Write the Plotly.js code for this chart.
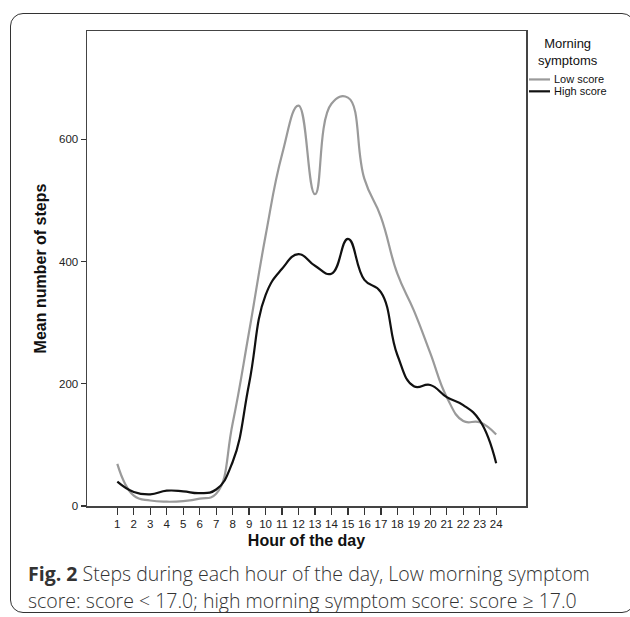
<!DOCTYPE html>
<html>
<head>
<meta charset="utf-8">
<script src="https://cdn.plot.ly/plotly-3.0.1.min.js"></script>
<style>
  html, body { margin: 0; padding: 0; background: #fff; }
  #frame { position: absolute; left: 10px; top: 13px; width: 625px; height: 600px;
           border: 1.5px solid #333; border-radius: 13px; box-sizing: border-box; }
  #chart { position: absolute; left: 0; top: 0; width: 630px; height: 617px; }
</style>
</head>
<body>
<div id="frame"></div>
<div id="chart"></div>
<script>
const hours = [1,2,3,4,5,6,7,8,9,10,11,12,13,14,15,16,17,18,19,20,21,22,23,24];
const lowScore  = [69,17,9,7,8,12,20,135,285,442,575,655,510,658,668,535,473,380,320,250,178,139,137,117];
const highScore = [40,23,19,25,24,21,27,72,200,345,388,412,393,380,437,370,350,247,196,198,178,165,140,70];
const yTicks = [0,200,400,600];
const seriesNames = ['Low score','High score'];
const legendTitle = 'Morning<br>symptoms';
const xTitle = 'Hour of the day';
const yTitle = 'Mean number of steps';
const caption1 = '<b>Fig. 2</b> Steps during each hour of the day, Low morning symptom';
const caption2 = 'score: score < 17.0; high morning symptom score: score \u2265 17.0';

const traces = [
  {x: hours, y: lowScore, name: seriesNames[0], mode: 'lines',
   line: {color: '#9a9a9a', width: 2.2, shape: 'spline', smoothing: 1.3}, showlegend: false},
  {x: hours, y: highScore, name: seriesNames[1], mode: 'lines',
   line: {color: '#111111', width: 2.2, shape: 'spline', smoothing: 1.3}, showlegend: false}
];

const axisFont = {family: 'Liberation Sans, Arial, sans-serif', size: 11.5, color: '#222'};
const titleFont = {family: 'Liberation Sans, Arial, sans-serif', size: 16, color: '#111'};
const layout = {
  width: 630, height: 617,
  margin: {l: 87, r: 104, t: 31, b: 111},
  paper_bgcolor: 'rgba(0,0,0,0)', plot_bgcolor: '#fff',
  showlegend: false,
  xaxis: {
    range: [-0.84, 25.81], tickmode: 'array', tickvals: hours, ticktext: hours.map(String),
    showgrid: false, zeroline: false, showline: true, mirror: true, linecolor: '#444', linewidth: 1.5,
    ticks: 'outside', ticklen: 7, tickwidth: 1.3, tickcolor: '#333', tickfont: axisFont,
    title: {text: '<b>' + xTitle + '</b>', font: titleFont, standoff: 5}
  },
  yaxis: {
    range: [0, 777], tickmode: 'array', tickvals: yTicks, ticktext: yTicks.map(String),
    showgrid: false, zeroline: false, showline: true, mirror: true, linecolor: '#444', linewidth: 1.5,
    ticks: 'outside', ticklen: 5, tickwidth: 1.3, tickcolor: '#333', tickfont: axisFont,
    title: {text: '<b>' + yTitle + '</b>', font: titleFont, standoff: 8}
  },
  shapes: [
    {type: 'line', xref: 'paper', yref: 'paper', x0: 1.0068, x1: 1.0547, y0: 0.898, y1: 0.898,
     line: {color: traces[0].line.color, width: 2.2}},
    {type: 'line', xref: 'paper', yref: 'paper', x0: 1.0068, x1: 1.0547, y0: 0.873, y1: 0.873,
     line: {color: traces[1].line.color, width: 2.2}}
  ],
  annotations: [
    {text: legendTitle, xref: 'paper', yref: 'paper', x: 1.0957, y: 0.955, xanchor: 'center', yanchor: 'middle',
     showarrow: false, align: 'center', font: {family: 'Liberation Sans, Arial, sans-serif', size: 13, color: '#111'}},
    {text: seriesNames[0], xref: 'paper', yref: 'paper', x: 1.0592, y: 0.898, xanchor: 'left', yanchor: 'middle',
     showarrow: false, font: {family: 'Liberation Sans, Arial, sans-serif', size: 11, color: '#111'}},
    {text: seriesNames[1], xref: 'paper', yref: 'paper', x: 1.0592, y: 0.873, xanchor: 'left', yanchor: 'middle',
     showarrow: false, font: {family: 'Liberation Sans, Arial, sans-serif', size: 11, color: '#111'}},
    {text: caption1, xref: 'paper', yref: 'paper', x: -0.139, y: -0.1417, xanchor: 'left', yanchor: 'middle',
     showarrow: false, font: {family: 'Open Sans, sans-serif', size: 19.5, color: '#333', weight: 300}},
    {text: caption2, xref: 'paper', yref: 'paper', x: -0.139, y: -0.1985, xanchor: 'left', yanchor: 'middle',
     showarrow: false, font: {family: 'Open Sans, sans-serif', size: 19.5, color: '#333', weight: 300}}
  ]
};

Plotly.newPlot('chart', traces, layout, {displayModeBar: false, staticPlot: true});
</script>
</body>
</html>
